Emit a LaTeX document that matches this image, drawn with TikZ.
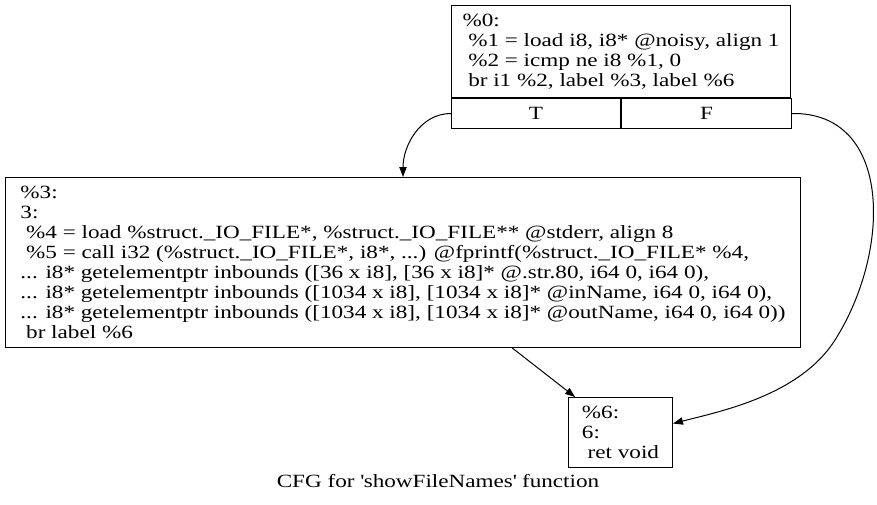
\documentclass[tikz,border=0pt]{standalone}
\usepackage{fontspec}
\setmainfont{Liberation Serif}[FakeStretch=1.24]
\usetikzlibrary{arrows.meta}

\newcommand{\lind}{\hspace*{4.3pt}}

\tikzset{
bbox/.style={draw, line width=0.75pt, anchor=north west, align=left, inner sep=2pt, font=\fontsize{14}{15}\selectfont},
cell/.style={draw, line width=0.75pt, anchor=north west, align=center, inner sep=0pt, minimum height=22.5pt, font=\fontsize{14}{15}\selectfont},
edge/.style={line width=0.75pt, -{Triangle[length=7.5pt,width=5.5pt]}},
}

\begin{document}
\begin{tikzpicture}[x=0.75pt,y=-0.75pt]
\useasboundingbox (0,0) rectangle (877,504);

% entry block and its branch cells
\node[bbox, minimum width=254.25pt, minimum height=69pt] (bb0) at (451,5) {\%0:\\
\lind\%1 = load i8, i8* @noisy, align 1\\
\lind\%2 = icmp ne i8 \%1, 0\\
\lind br i1 \%2, label \%3, label \%6};
\node[cell, minimum width=126.75pt] (bbT) at (bb0.south west) {T};
\node[cell, minimum width=127.5pt] (bbF) at (bbT.north east) {F};

\node[bbox, minimum width=596.25pt, minimum height=127.5pt] (bb3) at (5,177) {\%3:\\
3:\\
\lind\%4 = load \%struct.\_IO\_FILE*, \%struct.\_IO\_FILE** @stderr, align 8\\
\lind\%5 = call i32 (\%struct.\_IO\_FILE*, i8*, ...) @fprintf(\%struct.\_IO\_FILE* \%4,\\
... i8* getelementptr inbounds ([36 x i8], [36 x i8]* @.str.80, i64 0, i64 0),\\
... i8* getelementptr inbounds ([1034 x i8], [1034 x i8]* @inName, i64 0, i64 0),\\
... i8* getelementptr inbounds ([1034 x i8], [1034 x i8]* @outName, i64 0, i64 0))\\
\lind br label \%6};

\node[bbox, minimum width=78pt, minimum height=52.5pt] (bb6) at (568,397) {\%6:\\
6:\\
\lind ret void};

\node[anchor=base, inner sep=0pt, font=\fontsize{14}{15}\selectfont] (cap) at (438,487) {CFG for \textquotesingle showFileNames\textquotesingle{} function};

% edges
\draw[edge] (bbT.west) to[out=180,in=90] (bb3.north);
\draw[edge] (bbF.east) .. controls (892,112) and (892,250) .. (835,340)
  .. controls (800,395) and (722,411) .. ([yshift=6.75pt]bb6.east);
\draw[edge] (bb3) -- (bb6);

\end{tikzpicture}
\end{document}
